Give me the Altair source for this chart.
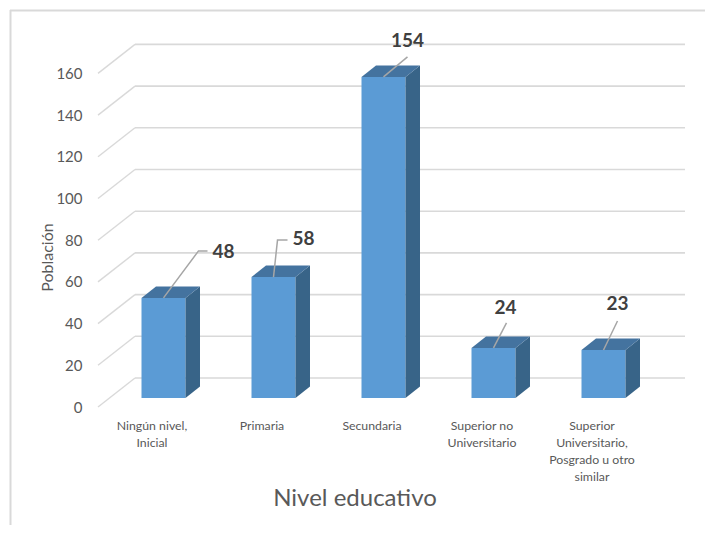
import altair as alt
import pandas as pd

categories = ["Ningún nivel,\nInicial", "Primaria", "Secundaria", "Superior no\nUniversitario",
              "Superior\nUniversitario,\nPosgrado u otro\nsimilar"]
values = [48, 58, 154, 24, 23]
y_ticks = [0, 20, 40, 60, 80, 100, 120, 140, 160]
x_title = "Nivel educativo"
y_title = "Población"

# layout, all in pixels of the picture
PX_U = 110.0      # px per category
PX_V = 2.085      # px per y unit
LEFT, BASE = 98, 398
W, H = 592, 368
X0 = -65.5 / PX_U
dom_x = [X0, X0 + W / PX_U]
dom_y = [0, H / PX_V]
hw = 22 / PX_U
dx = 14.5 / PX_U
dy = 11.5 / PX_V
by = -9 / PX_V
fx_back = 37 / PX_U
gb_y = 20 / PX_V
PAGE_BOTTOM = 525
PAGE_RIGHT = 705

FONT = "Lato"
TXT = "#595959"
x = alt.X("x:Q", scale=alt.Scale(domain=dom_x, nice=False, zero=False), axis=None)
y = alt.Y("y:Q", scale=alt.Scale(domain=dom_y, nice=False, zero=False),
          axis=alt.Axis(values=y_ticks, title=y_title, domain=False, ticks=False, grid=False,
                        labelOffset=9, labelPadding=16, labelFont=FONT, labelFontSize=15,
                        labelColor=TXT, titleFont=FONT, titleFontSize=16, titleColor=TXT,
                        titleFontWeight="normal", titleX=-43, titleY=227))

# grid: back wall lines and floor/wall diagonals
back = []
diag = []
for t in y_ticks:
    back.append({"x": X0 + fx_back, "x2": X0 + fx_back + 550 / PX_U, "y": t + gb_y})
    diag += [{"x": X0, "y": t + by, "t": t}, {"x": X0 + fx_back, "y": t + gb_y, "t": t}]
grid_back = alt.Chart(pd.DataFrame(back)).mark_rule(color="#D9D9D9", strokeWidth=1.6).encode(x=x, x2="x2:Q", y=y)
grid_diag = alt.Chart(pd.DataFrame(diag)).mark_line(color="#D9D9D9", strokeWidth=1.4).encode(x=x, y=y, detail="t:N")

idx = list(range(len(values)))
fr = pd.DataFrame({"x": [i - hw for i in idx], "x2": [i + hw for i in idx], "y": values, "y2": [0] * len(values)})
front = alt.Chart(fr).mark_rect(color="#5B9BD5").encode(x=x, x2="x2:Q", y=y, y2="y2:Q")

side_rows, top_rows = [], []
for i, v in zip(idx, values):
    side_rows += [
        {"x": i + hw, "y": v, "y2": 0, "i": i},
        {"x": i + hw + dx, "y": v + dy, "y2": dy, "i": i},
    ]
    top_rows += [
        {"y": v, "x": i - hw, "x2": i + hw, "i": i},
        {"y": v + dy, "x": i - hw + dx, "x2": i + hw + dx, "i": i},
    ]
side = alt.Chart(pd.DataFrame(side_rows)).mark_area(color="#386488", opacity=1).encode(x=x, y=y, y2="y2:Q", detail="i:N")
top = alt.Chart(pd.DataFrame(top_rows)).mark_area(color="#44739F", opacity=1, orient="horizontal").encode(
    y=y, x=x, x2="x2:Q", detail="i:N"
)

# data-label leaders: pixel offsets from the bar's front-top centre (elbow, end, label)
leader_px = [
    ((35, 47), (44, 47), (60, 46)),
    ((4, 37), (14, 37), (30, 38)),
    ((24, 20), (24, 20), (24, 36)),
    ((13, 25), (13, 25), (12, 40)),
    ((14, 29), (14, 29), (14, 46)),
]
ld, lb = [], []
for i, v, (e1, e2, l) in zip(idx, values, leader_px):
    pts = [(0, 0), e1, e2]
    for k, (a, b) in enumerate(pts):
        ld.append({"x": i + a / PX_U, "y": v + b / PX_V, "i": i, "k": k})
    lb.append({"x": i + l[0] / PX_U, "y": v + l[1] / PX_V, "t": str(v)})
leaders = alt.Chart(pd.DataFrame(ld)).mark_line(color="#A6A6A6", strokeWidth=1.5).encode(
    x=x, y=y, detail="i:N", order="k:Q"
)
labels = alt.Chart(pd.DataFrame(lb)).mark_text(
    font=FONT, fontSize=19, fontWeight="bold", color="#404040", align="center", baseline="middle"
).encode(x=x, y=y, text="t:N")

x_rows = []
for i, c in zip(idx, categories):
    x_rows.append({"x": i - 11.5 / PX_U, "y": -20 / PX_V, "t": c.split("\n")})
x_text = alt.Chart(pd.DataFrame(x_rows)).mark_text(
    font=FONT, fontSize=12.3, color=TXT, align="center", baseline="line-top", lineHeight=17
).encode(x=x, y=y, text="t")
x_title_mark = alt.Chart(pd.DataFrame({"x": [(355 - LEFT - 65.5) / PX_U], "y": [-101 / PX_V], "t": [x_title]})).mark_text(
    font=FONT, fontSize=24, color=TXT, align="center", baseline="middle"
).encode(x=x, y=y, text="t:N")

# chart-area frame: top and left edges, in view pixels
frame_top = alt.Chart(pd.DataFrame({"a": [0]})).mark_rule(color="#D9D9D9", strokeWidth=2).encode(
    x=alt.value(10 - LEFT), x2=alt.value(PAGE_RIGHT - LEFT), y=alt.value(10.5 - (BASE - H))
)
frame_left = alt.Chart(pd.DataFrame({"a": [0]})).mark_rule(color="#D9D9D9", strokeWidth=2).encode(
    x=alt.value(10.5 - LEFT), y=alt.value(10 - (BASE - H)), y2=alt.value(PAGE_BOTTOM - (BASE - H))
)

chart = alt.layer(
    frame_top, frame_left, grid_back, grid_diag, front, side, top, leaders, labels, x_text, x_title_mark
).resolve_scale(x="shared", y="shared").properties(
    width=W, height=H,
    autosize=alt.AutoSizeParams(type="none"),
    padding={"left": LEFT - 8, "top": BASE - H - 8, "right": PAGE_RIGHT - LEFT - W, "bottom": PAGE_BOTTOM - BASE},
).configure_view(stroke=None)

chart.save("out.html", embed_options={"renderer": "svg", "actions": False})
